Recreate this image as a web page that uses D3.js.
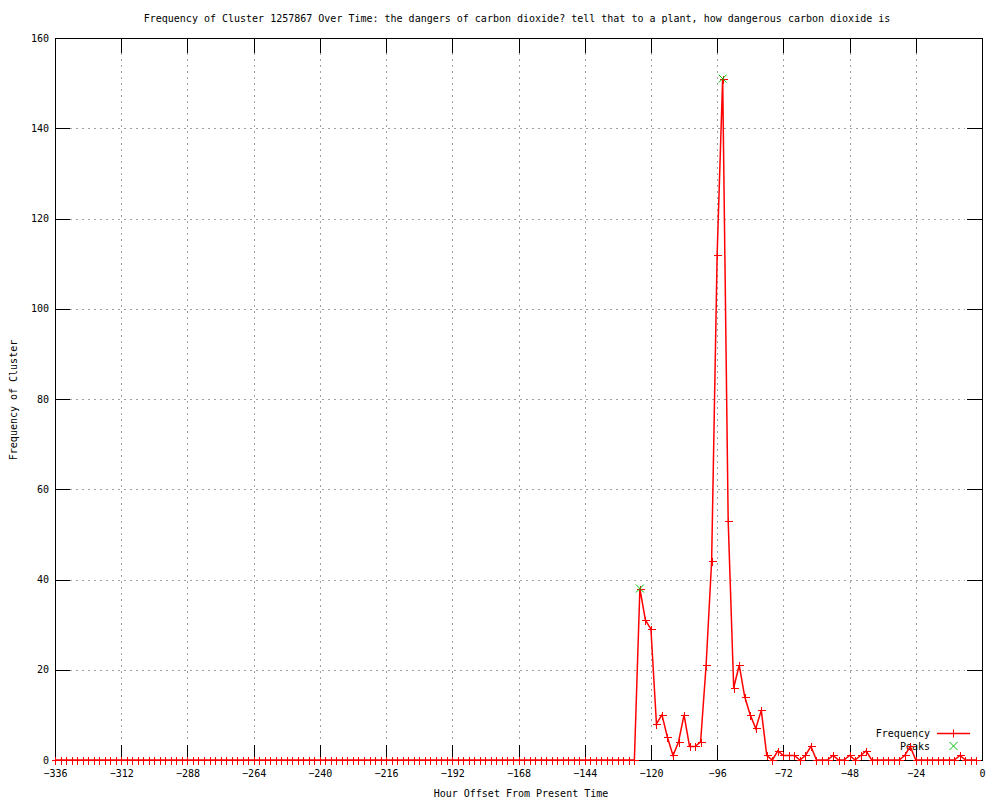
<!DOCTYPE html>
<html>
<head>
<meta charset="utf-8">
<script src="https://cdnjs.cloudflare.com/ajax/libs/d3/7.8.5/d3.min.js"></script>
<style>
  body { margin: 0; background: #fff; }
  text { font-family: "DejaVu Sans Mono", "Liberation Mono", monospace; font-size: 10px; fill: #000; }
</style>
</head>
<body>
<script>
// data: one value every 2 hours, from -336 to -2
const startHour = -336
const stepHours = 2
const frequency = [
  0, 0, 0, 0, 0, 0, 0, 0, 0, 0, 0, 0, 0, 0, 0, 0, 0, 0, 0, 0,
  0, 0, 0, 0, 0, 0, 0, 0, 0, 0, 0, 0, 0, 0, 0, 0, 0, 0, 0, 0,
  0, 0, 0, 0, 0, 0, 0, 0, 0, 0, 0, 0, 0, 0, 0, 0, 0, 0, 0, 0,
  0, 0, 0, 0, 0, 0, 0, 0, 0, 0, 0, 0, 0, 0, 0, 0, 0, 0, 0, 0,
  0, 0, 0, 0, 0, 0, 0, 0, 0, 0, 0, 0, 0, 0, 0, 0, 0, 0, 0, 0,
  0, 0, 0, 0, 0, 0,
  // -124 .. -2
  38, 31, 29, 8, 10, 5, 1, 4, 10, 3, 3, 4, 21, 44, 112, 151, 53, 16, 21, 14,
  10, 7, 11, 1, 0, 2, 1, 1, 1, 0, 1, 3, 0, 0, 0, 1, 0, 0, 1, 0,
  1, 2, 0, 0, 0, 0, 0, 0, 1, 3, 0, 0, 0, 0, 0, 0, 0, 0, 1, 0,
  0, 0
]
const peakHours = [-124, -94]
const peakValues = [38, 151]
const xTicks = [-336, -312, -288, -264, -240, -216, -192, -168, -144, -120, -96, -72, -48, -24, 0]
const yTicks = [0, 20, 40, 60, 80, 100, 120, 140, 160]

const w = 1000
const h = 800
const mLeft = 55, mRight = 982, mTop = 38, mBottom = 760
const tickLen = 15

const svg = d3.select('body').append('svg')
  .attr('width', w)
  .attr('height', h)

const x = d3.scaleLinear().domain([-336, 0]).range([mLeft, mRight])
const y = d3.scaleLinear().domain([0, 160]).range([mBottom, mTop])

const points = frequency.map((v, i) => ({ hour: startHour + i * stepHours, value: v }))
const peaks = peakHours.map((hr, i) => ({ hour: hr, value: peakValues[i] }))

// grid
const grid = svg.append('g')
  .attr('stroke', '#a0a0a0')
  .attr('stroke-dasharray', '2,4')
  .attr('shape-rendering', 'crispEdges')
grid.selectAll('.vgrid')
  .data(xTicks.filter(t => t > -336 && t < 0))
  .enter().append('line')
  .attr('x1', d => Math.round(x(d)) + 0.5)
  .attr('x2', d => Math.round(x(d)) + 0.5)
  .attr('y1', mTop + tickLen)
  .attr('y2', mBottom - tickLen - 2)
grid.selectAll('.hgrid')
  .data(yTicks.filter(t => t > 0 && t < 160))
  .enter().append('line')
  .attr('y1', d => Math.round(y(d)) + 0.5)
  .attr('y2', d => Math.round(y(d)) + 0.5)
  .attr('x1', mLeft + tickLen)
  .attr('x2', mRight - tickLen - 2)

// axes with inward ticks on all four sides
const axisG = svg.append('g').attr('shape-rendering', 'crispEdges')
svg.append('g')
  .attr('transform', `translate(0,${mBottom})`)
  .call(d3.axisBottom(x).tickValues(xTicks).tickSize(0).tickPadding(10).tickFormat(d => d < 0 ? '\u2212' + (-d) : d))
  .call(g => g.select('.domain').remove())
  .selectAll('text').style('font-family', '"DejaVu Sans Mono", monospace').style('font-size', '10px')
svg.append('g')
  .attr('transform', `translate(${mLeft},0)`)
  .call(d3.axisLeft(y).tickValues(yTicks).tickSize(0).tickPadding(6))
  .call(g => g.select('.domain').remove())
  .selectAll('text').style('font-family', '"DejaVu Sans Mono", monospace').style('font-size', '10px')

axisG.selectAll('.xt')
  .data(xTicks.filter(t => t > -336 && t < 0))
  .enter().append('g')
  .each(function (d) {
    const gx = Math.round(x(d)) + 0.5
    d3.select(this).append('line').attr('x1', gx).attr('x2', gx).attr('y1', mBottom).attr('y2', mBottom - tickLen).attr('stroke', '#000')
    d3.select(this).append('line').attr('x1', gx).attr('x2', gx).attr('y1', mTop).attr('y2', mTop + tickLen).attr('stroke', '#000')
  })
axisG.selectAll('.yt')
  .data(yTicks.filter(t => t > 0 && t < 160))
  .enter().append('g')
  .each(function (d) {
    const gy = Math.round(y(d)) + 0.5
    d3.select(this).append('line').attr('y1', gy).attr('y2', gy).attr('x1', mLeft).attr('x2', mLeft + tickLen).attr('stroke', '#000')
    d3.select(this).append('line').attr('y1', gy).attr('y2', gy).attr('x1', mRight).attr('x2', mRight - tickLen).attr('stroke', '#000')
  })
axisG.append('rect')
  .attr('x', mLeft + 0.5).attr('y', mTop + 0.5)
  .attr('width', mRight - mLeft).attr('height', mBottom - mTop)
  .attr('fill', 'none').attr('stroke', '#000')

// titles
svg.append('text')
  .attr('x', 517).attr('y', 22)
  .attr('text-anchor', 'middle')
  .text('Frequency of Cluster 1257867 Over Time: the dangers of carbon dioxide? tell that to a plant, how dangerous carbon dioxide is')
svg.append('text')
  .attr('x', 521).attr('y', 797)
  .attr('text-anchor', 'middle')
  .text('Hour Offset From Present Time')
svg.append('text')
  .attr('transform', 'translate(17,400) rotate(-90)')
  .attr('text-anchor', 'middle')
  .text('Frequency of Cluster')

// legend
const legend = svg.append('g')
legend.append('text').attr('x', 930).attr('y', 733).attr('dy', '0.35em').attr('text-anchor', 'end').text('Frequency')
legend.append('text').attr('x', 930).attr('y', 746).attr('dy', '0.35em').attr('text-anchor', 'end').text('Peaks')
legend.append('line').attr('x1', 937).attr('x2', 970).attr('y1', 733.5).attr('y2', 733.5)
  .attr('stroke', '#ff0000').attr('stroke-width', 1.5)

function plus(sel, cx, cy, color) {
  sel.append('path')
    .attr('d', `M${cx - 4},${cy}H${cx + 4}M${cx},${cy - 4}V${cy + 4}`)
    .attr('stroke', color).attr('fill', 'none')
}
function cross(sel, cx, cy, color) {
  sel.append('path')
    .attr('d', `M${cx - 4},${cy - 4}L${cx + 4},${cy + 4}M${cx - 4},${cy + 4}L${cx + 4},${cy - 4}`)
    .attr('stroke', color).attr('fill', 'none')
}
plus(legend, 953.5, 733.5, '#ff0000')
cross(legend, 953.5, 746, '#00c000')

// frequency line and points
const line = d3.line().x(d => x(d.hour)).y(d => y(d.value))
svg.append('path')
  .datum(points)
  .attr('d', line)
  .attr('fill', 'none')
  .attr('stroke', '#ff0000')
  .attr('stroke-width', 1.5)

const marks = svg.append('g').attr('shape-rendering', 'crispEdges')
points.forEach(d => plus(marks, Math.round(x(d.hour)) + 0.5, Math.round(y(d.value)) + 0.5, '#ff0000'))

const peakMarks = svg.append('g')
peaks.forEach(d => cross(peakMarks, x(d.hour), y(d.value), '#00c000'))
</script>
</body>
</html>
